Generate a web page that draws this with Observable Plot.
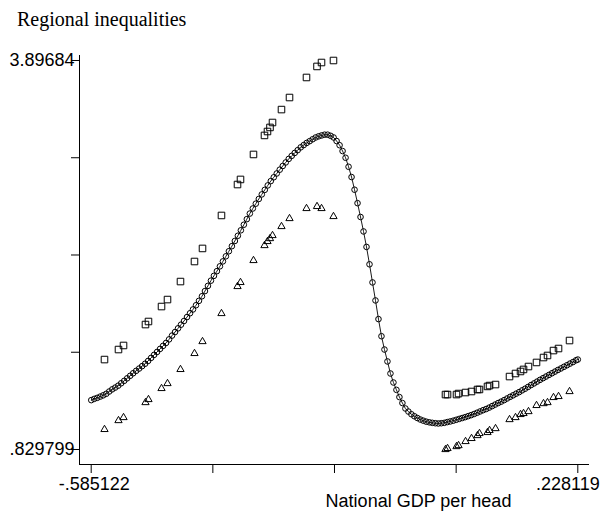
<!DOCTYPE html>
<html>
<head>
<meta charset="utf-8">
<script src="https://cdn.jsdelivr.net/npm/d3@7"></script>
<script src="https://cdn.jsdelivr.net/npm/@observablehq/plot@0.6"></script>
<style>
  html, body { margin: 0; padding: 0; background: #fff; }
  #wrap { position: relative; width: 602px; height: 514px; overflow: hidden; }
  #title { position: absolute; left: 17px; top: 9px; font: 20px/20px "Liberation Serif", "Times New Roman", serif; color: #000; white-space: nowrap; }
  #chart { position: absolute; left: 0; top: 0; }
</style>
</head>
<body>
<div id="wrap">
  <div id="chart"></div>
  <div id="title">Regional inequalities</div>
</div>
<script>
// Fitted curve (circles joined by a line)
const fitX = [-0.585,-0.580,-0.575,-0.570,-0.565,-0.560,-0.555,-0.550,-0.545,-0.540,
  -0.535,-0.530,-0.525,-0.520,-0.515,-0.510,-0.505,-0.500,-0.495,-0.490,
  -0.485,-0.480,-0.475,-0.470,-0.465,-0.460,-0.455,-0.450,-0.445,-0.440,
  -0.435,-0.430,-0.425,-0.420,-0.415,-0.410,-0.405,-0.400,-0.395,-0.390,
  -0.385,-0.380,-0.375,-0.370,-0.365,-0.360,-0.355,-0.350,-0.345,-0.340,
  -0.335,-0.330,-0.325,-0.320,-0.315,-0.310,-0.305,-0.300,-0.295,-0.290,
  -0.285,-0.280,-0.275,-0.270,-0.265,-0.260,-0.255,-0.250,-0.245,-0.240,
  -0.235,-0.230,-0.225,-0.220,-0.215,-0.210,-0.205,-0.200,-0.195,-0.190,
  -0.185,-0.180,-0.175,-0.170,-0.165,-0.160,-0.155,-0.150,-0.145,-0.140,
  -0.135,-0.130,-0.125,-0.120,-0.115,-0.110,-0.105,-0.100,-0.095,-0.090,
  -0.085,-0.080,-0.075,-0.070,-0.065,-0.060,-0.055,-0.050,-0.045,-0.040,
  -0.035,-0.030,-0.025,-0.020,-0.015,-0.010,-0.005,0.000,0.005,0.010,
  0.015,0.020,0.025,0.030,0.035,0.040,0.045,0.050,0.055,0.060,
  0.065,0.070,0.075,0.080,0.085,0.090,0.095,0.100,0.105,0.110,
  0.115,0.120,0.125,0.130,0.135,0.140,0.145,0.150,0.155,0.160,
  0.165,0.170,0.175,0.180,0.185,0.190,0.195,0.200,0.205,0.210,
  0.215,0.220,0.225,0.228119];
const fitY = [1.219,1.229,1.237,1.247,1.257,1.269,1.287,1.304,1.318,1.333,
  1.352,1.371,1.391,1.411,1.431,1.450,1.468,1.487,1.506,1.528,
  1.552,1.576,1.599,1.623,1.647,1.670,1.698,1.728,1.756,1.785,
  1.814,1.843,1.874,1.904,1.934,1.967,2.002,2.038,2.079,2.120,
  2.161,2.199,2.236,2.274,2.313,2.353,2.393,2.433,2.474,2.515,
  2.558,2.602,2.646,2.690,2.730,2.768,2.805,2.841,2.877,2.912,
  2.946,2.976,3.006,3.036,3.065,3.093,3.121,3.145,3.168,3.190,
  3.212,3.230,3.247,3.261,3.276,3.290,3.299,3.306,3.312,3.312,
  3.303,3.290,3.262,3.229,3.183,3.130,3.059,2.978,2.878,2.772,
  2.663,2.549,2.427,2.290,2.147,2.005,1.858,1.723,1.618,1.524,
  1.429,1.358,1.300,1.243,1.196,1.153,1.129,1.108,1.092,1.078,
  1.066,1.057,1.049,1.044,1.040,1.037,1.035,1.037,1.040,1.046,
  1.051,1.057,1.064,1.071,1.078,1.085,1.093,1.101,1.110,1.120,
  1.130,1.140,1.149,1.160,1.172,1.184,1.196,1.207,1.219,1.232,
  1.245,1.257,1.270,1.282,1.296,1.309,1.323,1.338,1.351,1.365,
  1.379,1.392,1.405,1.418,1.431,1.444,1.457,1.469,1.482,1.494,
  1.507,1.519,1.533,1.539];

// Observations: upper (squares) and lower (triangles) bounds
const obsX = [-0.5629,-0.5395,-0.5311,-0.4944,-0.4894,-0.4676,-0.4576,-0.4359,-0.4125,-0.3991,
  -0.3674,-0.3406,-0.3356,-0.3139,-0.2955,-0.2905,-0.2863,-0.2821,-0.2671,-0.2537,
  -0.2253,-0.2077,-0.2002,-0.1802,
  0.0070,0.0104,0.0254,0.0288,0.0405,0.0505,0.0605,0.0638,0.0772,0.0806,
  0.0906,0.1140,0.1240,0.1324,0.1374,0.1457,0.1591,0.1708,0.1775,0.1875,
  0.1959,0.2143];
const upperY = [1.539,1.618,1.650,1.815,1.839,1.957,2.012,2.154,2.312,2.415,
  2.675,2.919,2.959,3.156,3.306,3.337,3.369,3.408,3.510,3.605,
  3.763,3.850,3.881,3.89684,
  1.263,1.263,1.263,1.271,1.279,1.287,1.303,1.303,1.327,1.334,
  1.342,1.405,1.429,1.445,1.461,1.484,1.516,1.555,1.571,1.610,
  1.626,1.689];
const lowerY = [0.988,1.058,1.082,1.200,1.224,1.311,1.350,1.461,1.587,1.681,
  1.902,2.115,2.147,2.320,2.438,2.470,2.493,2.517,2.588,2.651,
  2.730,2.746,2.730,2.667,
  0.829799,0.838,0.853,0.861,0.893,0.917,0.940,0.956,0.964,0.980,
  0.995,1.066,1.082,1.106,1.114,1.129,1.177,1.192,1.200,1.240,
  1.248,1.287];

const xTicks = [-0.585122, -0.381812, -0.178502, 0.024809, 0.228119];
const xTickLabels = ["-.585122", "", "", "", ".228119"];
const yTicks = [0.829799, 1.596559, 2.36332, 3.13008, 3.89684];
const yTickLabels = [".829799", "", "", "", "3.89684"];
const xTitle = "National GDP per head";

const xDomain = [-0.60467, 0.24767];
const yDomain = [0.71153, 3.93626];

const fit = fitX.map((x, i) => ({x, y: fitY[i]}));
const obs = obsX.map((x, i) => ({x, hi: upperY[i], lo: lowerY[i]}));
const font = "'Liberation Sans', Arial, Helvetica, sans-serif";

const chart = Plot.plot({
  width: 602,
  height: 514,
  marginLeft: 79,
  marginRight: 13,
  marginTop: 55,
  marginBottom: 50,
  style: {fontFamily: font, fontSize: "18px", color: "#000", background: "#fff"},
  x: {domain: xDomain, axis: null},
  y: {domain: yDomain, axis: null},
  marks: [
    Plot.ruleX([xDomain[0]], {y1: yDomain[0], y2: yDomain[1], stroke: "#000", strokeWidth: 1}),
    Plot.ruleY([yDomain[0]], {x1: xDomain[0], x2: xDomain[1], stroke: "#000", strokeWidth: 1}),
    Plot.axisY(yTicks, {
      tickSize: 8, tickPadding: -3, fontSize: 18, stroke: "#000",
      tickFormat: d => yTickLabels[yTicks.indexOf(d)], label: null
    }),
    Plot.axisX(xTicks, {
      tickSize: 9, stroke: "#000", tickFormat: () => "", label: null
    }),
    Plot.text([xTicks[0]], {x: d => d, text: [xTickLabels[0]], frameAnchor: "bottom",
      lineAnchor: "top", dy: 13, dx: 3, textAnchor: "middle", fontSize: 18, fill: "#000"}),
    Plot.text([xTicks[4]], {x: d => d, text: [xTickLabels[4]], frameAnchor: "bottom",
      lineAnchor: "top", dy: 13, dx: 22, textAnchor: "end", fontSize: 18, fill: "#000"}),
    Plot.text([xTitle], {frameAnchor: "bottom", lineAnchor: "top", dy: 30, dx: 84,
      textAnchor: "middle", fontSize: 18, fill: "#000"}),
    Plot.line(fit, {x: "x", y: "y", stroke: "#000", strokeWidth: 0.9}),
    Plot.dot(fit, {x: "x", y: "y", r: 2.8, stroke: "#000", strokeWidth: 1, fill: "none"}),
    Plot.dot(obs, {x: "x", y: "hi", symbol: "square", r: 3.7, stroke: "#000", strokeWidth: 1, fill: "none"}),
    Plot.dot(obs, {x: "x", y: "lo", symbol: "triangle", r: 2.7, stroke: "#000", strokeWidth: 1, fill: "none"})
  ]
});
document.getElementById("chart").append(chart);
</script>
</body>
</html>
